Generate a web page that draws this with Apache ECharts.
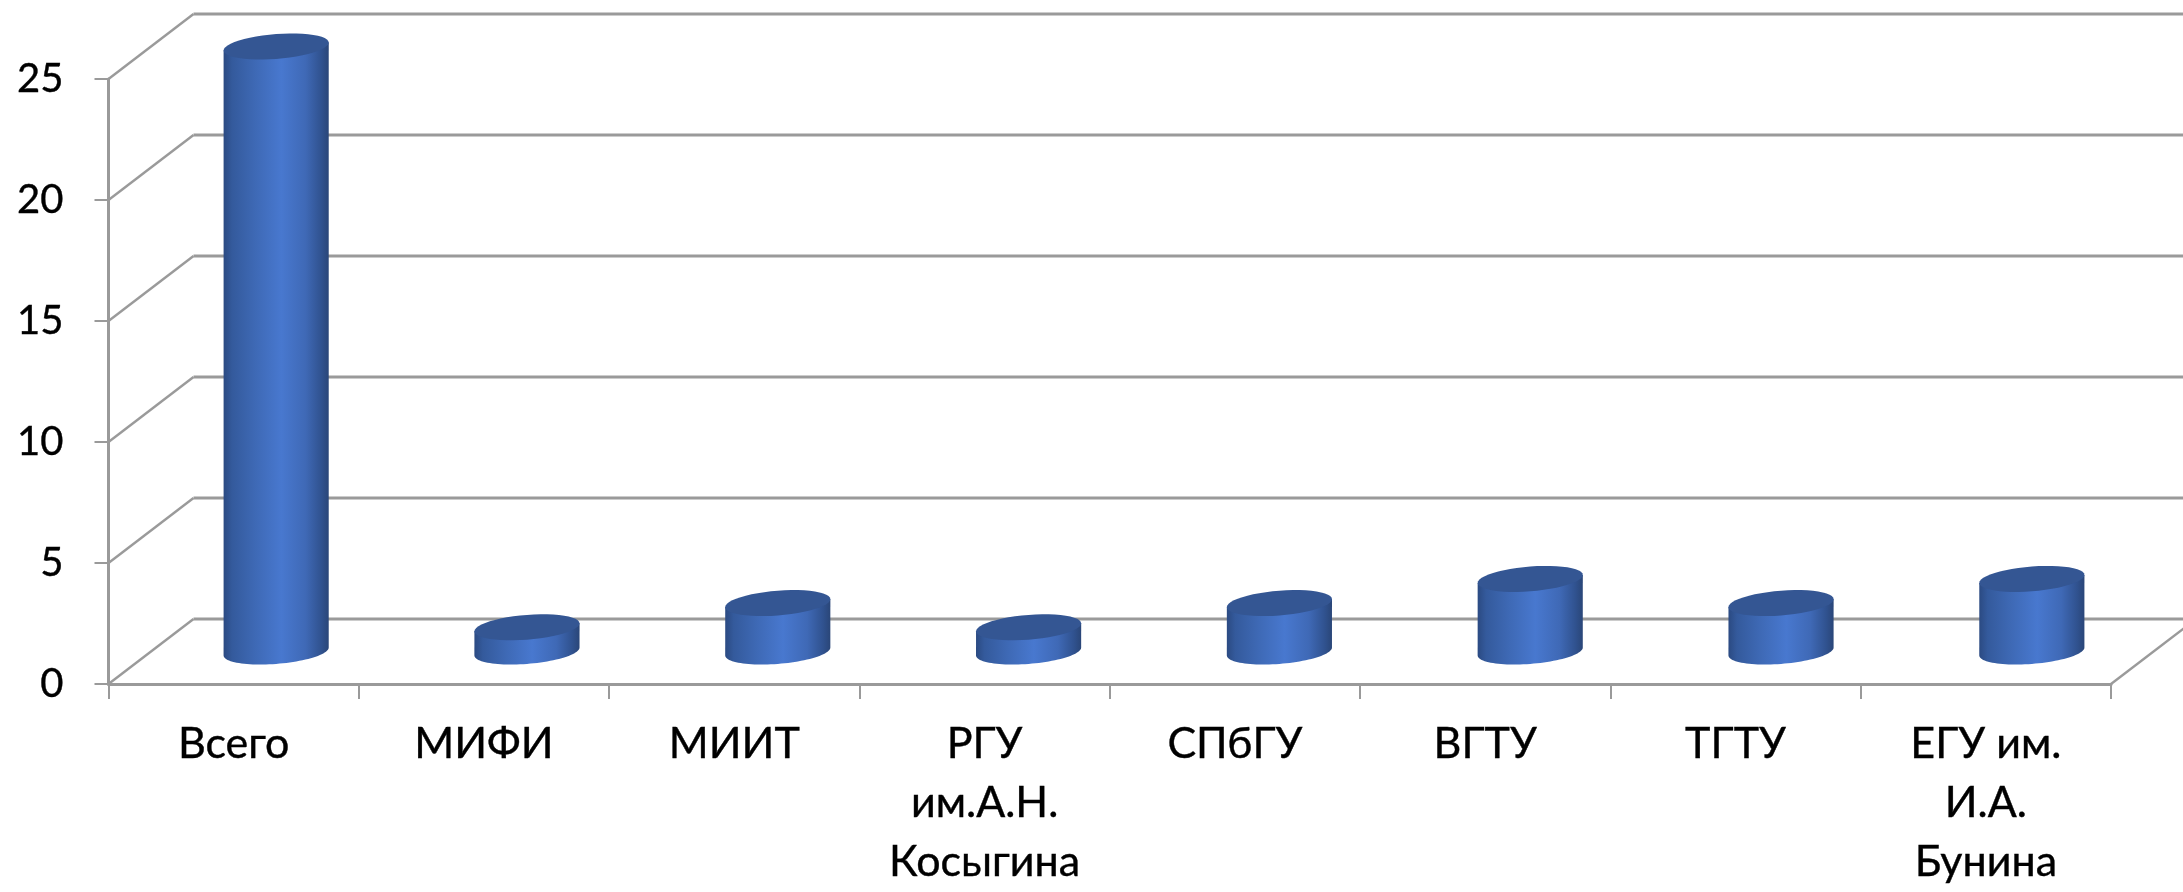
<!DOCTYPE html>
<html><head><meta charset="utf-8">
<style>html,body{margin:0;padding:0;background:#fff;overflow:hidden}#c{width:2183px;height:892px}</style>
<script src="https://cdn.jsdelivr.net/npm/echarts@6/dist/echarts.min.js"></script>
</head><body><div id="c"></div>
<script>
const categories = ['Всего','МИФИ','МИИТ','РГУ\nим.А.Н.\nКосыгина','СПбГУ','ВГТУ','ТГТУ','ЕГУ им.\nИ.А.\nБунина'];
const values = [25,1,2,1,2,3,2,3];
const yTicks = [0,5,10,15,20,25];

const DEPTH_X = 85, DEPTH_Y = 65, LINE = '#9a9a9a';
const chart = echarts.init(document.getElementById('c'), null, {renderer:'canvas'});

function wallItem(params, api){
  const v = api.value(1), cs = params.coordSys, p = api.coord([0, v]);
  const x0 = cs.x, y = p[1];
  const diag = {stroke: LINE, lineWidth: 2.4, fill: null};
  const back = {stroke: LINE, lineWidth: 3, fill: null};
  const children = [
    {type:'line', shape:{x1:x0, y1:y, x2:x0+DEPTH_X, y2:y-DEPTH_Y}, style:diag},
    {type:'line', shape:{x1:x0+DEPTH_X, y1:y-DEPTH_Y, x2:x0+DEPTH_X+cs.width, y2:y-DEPTH_Y}, style:back}
  ];
  if (v === 0) children.push({type:'line', shape:{x1:x0+cs.width, y1:y, x2:x0+cs.width+DEPTH_X, y2:y-DEPTH_Y}, style:diag});
  return {type:'group', children};
}

function arc(cx, cy, a, b, k, from, to){
  const pts = [];
  for (let i=0;i<=48;i++){
    const t = from + (to-from)*i/48;
    pts.push([cx + a*Math.cos(t), cy + b*Math.sin(t) + k*Math.cos(t)]);
  }
  return pts;
}

function barItem(params, api){
  const i = api.value(0), v = api.value(1);
  const base = api.coord([i,0]), top = api.coord([i,v]);
  const a = api.size([1,0])[0]*0.42/2, b = 12.4, k = -4;
  const cx = base[0]+DEPTH_X/2+i*0.5, by = base[1]-DEPTH_Y/2, ty = top[1]-DEPTH_Y/2;
  const lower = arc(cx, by, a, b, k, Math.PI, 0);
  const body = lower.concat([[cx+a, ty+k],[cx-a, ty-k]]);
  const grad = new echarts.graphic.LinearGradient(0,0,1,0,[
    {offset:0,color:'#2b4a82'},{offset:0.08,color:'#345a9c'},{offset:0.3,color:'#3e69b5'},
    {offset:0.55,color:'#4878cf'},{offset:0.78,color:'#3f69b6'},{offset:0.93,color:'#30528f'},{offset:1,color:'#2a4678'}
  ]);
  return {type:'group', children:[
    {type:'polygon', shape:{points:body}, style:{fill:grad}},
    {type:'polygon', shape:{points:arc(cx, ty, a, b, k, 0, Math.PI*2)}, style:{fill:'#345693'}}
  ]};
}

chart.setOption({
  animation:false,
  backgroundColor:'#ffffff',
  textStyle:{fontFamily:'Lato'},
  grid:{left:108.5, right:72, top:79, bottom:201, containLabel:false},
  xAxis:{type:'category', data:categories,
    axisLine:{show:true,lineStyle:{color:LINE,width:3}},
    axisTick:{show:true,length:15,alignWithLabel:false,lineStyle:{color:LINE,width:2}},
    axisLabel:{interval:0,color:'#000',fontSize:43,fontFamily:'Lato',lineHeight:59,margin:31,textBorderColor:'#000',textBorderWidth:0.4},
    splitLine:{show:false}},
  yAxis:{type:'value',min:0,max:25,interval:5,
    axisLine:{show:true,lineStyle:{color:LINE,width:3}},
    axisTick:{show:true,length:14,lineStyle:{color:LINE,width:2}},
    axisLabel:{color:'#000',fontSize:40,fontFamily:'Lato',margin:45,textBorderColor:'#000',textBorderWidth:0.4},
    splitLine:{show:false}},
  series:[
    {type:'custom',z:1,silent:true,renderItem:wallItem,encode:{x:0,y:1},data:yTicks.map(v=>[0,v])},
    {type:'custom',z:2,silent:true,renderItem:barItem,encode:{x:0,y:1},data:values.map((v,i)=>[i,v])}
  ]
});
</script></body></html>
